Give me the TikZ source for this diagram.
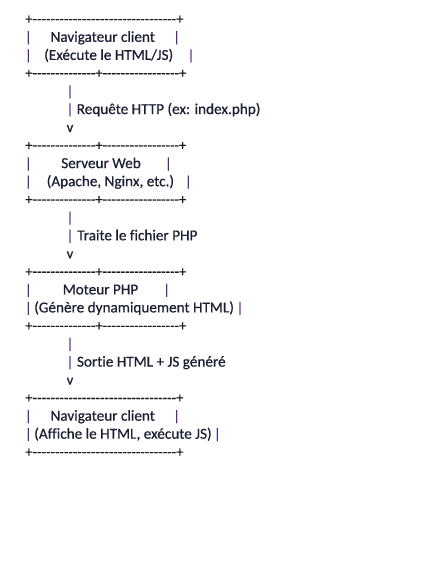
\documentclass[tikz,border=0pt]{standalone}
\usepackage{fontspec}
\setmainfont{Carlito}[Ligatures=NoCommon]
\newfontfamily\heavy{Carlito}[Ligatures=NoCommon, FakeBold=0.5]
\definecolor{ink}{HTML}{1A1F33}
\definecolor{rule}{HTML}{1A1A1A}
\definecolor{bar}{HTML}{55248C}
\newcommand\dashrun[1]{\foreach\k in {1,...,#1}{\mbox{-}}}
\tikzset{
  txt/.style={inner sep=0pt, anchor=base west, font=\heavy\fontsize{11.4pt}{13.5pt}\selectfont, text=ink},
  edge/.style={inner sep=0pt, anchor=base west, font=\heavy\fontsize{11pt}{13.5pt}\selectfont, text=rule},
  pipe/.style={inner sep=0pt, anchor=base, font=\heavy\fontsize{11pt}{13.5pt}\selectfont, text=bar},
  tip/.style={pipe, text=ink}
}
\begin{document}
\begin{tikzpicture}[x=0.75pt,y=0.75pt]
        \path [fill=white] (0,0) rectangle (434,-568);
        \node [edge] (navtop) at (25,-23.8) {+\dashrun{32}+};
        \node [pipe] (navla) at (28.3,-41.8) {|};
        \node [txt] (navname) at (50.3,-41.8) {Navigateur client};
        \node [pipe] (navra) at (176.7,-41.8) {|};
        \node [pipe] (navlb) at (28.3,-59.9) {|};
        \node [txt] (navrole) at (44,-59.9) {(Exécute le HTML/JS)};
        \node [pipe] (navrb) at (191,-59.9) {|};
        \node [edge] (navbot) at (25,-77.9) {+\dashrun{14}+\dashrun{17}+};
        \node [pipe] (reqa) at (70,-96) {|};
        \node [pipe] (reqb) at (70,-114) {|};
        \node [txt] (reqlabel) at (76.5,-114) {Requête HTTP (ex: index.php)};
        \node [tip] (reqtip) at (70,-132) {v};
        \node [edge] (webtop) at (25,-150.1) {+\dashrun{14}+\dashrun{17}+};
        \node [pipe] (webla) at (28.3,-168.1) {|};
        \node [txt] (webname) at (61,-168.1) {Serveur Web};
        \node [pipe] (webra) at (168.3,-168.1) {|};
        \node [pipe] (weblb) at (28.3,-186.2) {|};
        \node [txt] (webrole) at (46.5,-186.2) {(Apache, Nginx, etc.)};
        \node [pipe] (webrb) at (188.3,-186.2) {|};
        \node [edge] (webbot) at (25,-204.2) {+\dashrun{14}+\dashrun{17}+};
        \node [pipe] (runa) at (70,-222.2) {|};
        \node [pipe] (runb) at (70,-240.3) {|};
        \node [txt] (runlabel) at (77,-240.3) {Traite le fichier PHP};
        \node [tip] (runtip) at (70,-258.3) {v};
        \node [edge] (phptop) at (25,-276.4) {+\dashrun{14}+\dashrun{17}+};
        \node [pipe] (phpla) at (28.3,-294.4) {|};
        \node [txt] (phpname) at (62.5,-294.4) {Moteur PHP};
        \node [pipe] (phpra) at (166.7,-294.4) {|};
        \node [pipe] (phplb) at (28.3,-312.4) {|};
        \node [txt] (phprole) at (34,-312.4) {(Génère dynamiquement HTML)};
        \node [pipe] (phprb) at (240,-312.4) {|};
        \node [edge] (phpbot) at (25,-330.5) {+\dashrun{14}+\dashrun{17}+};
        \node [pipe] (outa) at (70,-348.5) {|};
        \node [pipe] (outb) at (70,-366.6) {|};
        \node [txt] (outlabel) at (76.7,-366.6) {Sortie HTML + JS généré};
        \node [tip] (outtip) at (70,-384.6) {v};
        \node [edge] (backtop) at (25,-402.6) {+\dashrun{32}+};
        \node [pipe] (backla) at (28.3,-420.7) {|};
        \node [txt] (backname) at (50.3,-420.7) {Navigateur client};
        \node [pipe] (backra) at (176.7,-420.7) {|};
        \node [pipe] (backlb) at (28.3,-438.7) {|};
        \node [txt] (backrole) at (34,-438.7) {(Affiche le HTML, exécute JS)};
        \node [pipe] (backrb) at (217.3,-438.7) {|};
        \node [edge] (backbot) at (25,-456.8) {+\dashrun{32}+};
        \end{tikzpicture}
\end{document}
